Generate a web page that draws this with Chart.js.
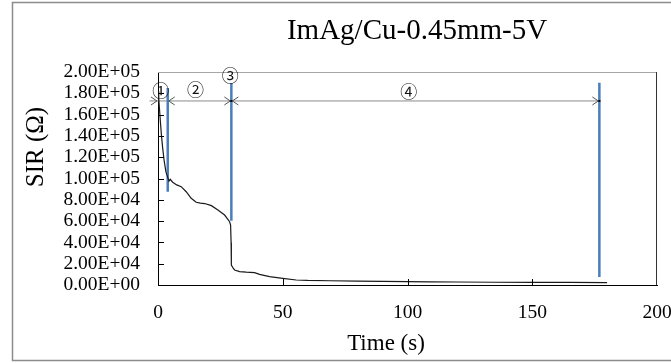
<!DOCTYPE html>
<html><head><meta charset="utf-8">
<script src="https://cdn.jsdelivr.net/npm/chart.js@4/dist/chart.umd.min.js"></script>
<style>html,body{margin:0;padding:0;background:#fff;}#wrap{width:671px;height:363px;}</style>
</head><body><div id="wrap"><canvas id="c" width="671" height="363"></canvas></div>
<script>
// ---- data ----
const chartTitle = 'ImAg/Cu-0.45mm-5V';
const xTitle = 'Time (s)';
const yTitle = 'SIR (\u03A9)';
const timeS = [0,0.3,0.6,1.0,1.4,1.9,2.5,3.2,3.9,4.4,4.9,5.9,7.5,9.3,11.3,13.3,15.3,17,18.7,21.4,24,26.7,28.7,29.1,29.3,29.4,30.2,30.7,32.7,35.4,38.7,40.7,44.7,50,55.4,60,68.8,80,90,100,109,120,135,150,165,180];
const sirOhm = [182000,175000,165000,152000,140000,128000,116000,106000,101000,97500,99200,96500,94000,92300,87600,81400,77700,76800,76500,74500,70400,65700,59400,56300,40000,18800,15500,14100,12500,12000,11600,10000,7800,6300,4700,4300,4000,3600,3400,3200,3000,2800,2600,2500,2400,2300];
// stage boundary markers (time, top SIR, bottom SIR)
const boundaryTimes = [3.9, 29.4, 176.9];
const boundaryTop = [185000, 189700, 190000];
const boundaryBottom = [87600, 60400, 7500];
// stage arrow row
const arrowSIR = 172800;
const arrowStart = -3.4;
const stageLabels = ['\u2460','\u2461','\u2462','\u2463'];
const stageLabelTimes = [1.1, 15, 29, 100.5];
const stageLabelSIR = [182500, 183500, 196300, 182000];
const xTicks = [0,50,100,150,200];
const yTicks = [0,20000,40000,60000,80000,100000,120000,140000,160000,180000,200000];

const blue = '#4a7ebb';
const datasets = [{
  data: timeS.map((t,i)=>({x:t,y:sirOhm[i]})),
  borderColor:'#1a1a1a', borderWidth:1.2, pointRadius:0, tension:0, fill:false
}];
boundaryTimes.forEach((t,i)=>{
  datasets.push({data:[{x:t,y:boundaryTop[i]},{x:t,y:boundaryBottom[i]}],
    borderColor:blue, borderWidth:2.5, pointRadius:0, clip:false});
});
datasets.push({data:[{x:arrowStart,y:arrowSIR},{x:boundaryTimes[2],y:arrowSIR}],
  borderColor:'#8a8a8a', borderWidth:1, pointRadius:0, clip:false});

const deco = {
  id:'deco',
  beforeDraw(chart){
    const c=chart.ctx; c.save();
    c.fillStyle='#fff'; c.fillRect(0,0,chart.width,chart.height);
    c.strokeStyle='#8c8c8c'; c.lineWidth=1.5;
    c.strokeRect(12.5,2.5,chart.width+10,358);
    c.restore();
  },
  afterDraw(chart){
    const c=chart.ctx, xs=chart.scales.x, ys=chart.scales.y, a=chart.chartArea;
    c.save();
    c.lineWidth=1;
    c.strokeStyle='#a6a6a6';
    c.beginPath(); c.moveTo(a.left,a.top+0.5); c.lineTo(a.right,a.top+0.5); c.stroke();
    c.strokeStyle='#333';
    c.beginPath(); c.moveTo(a.right-0.5,a.top); c.lineTo(a.right-0.5,a.bottom); c.stroke();
    c.strokeStyle='#000';
    yTicks.forEach(v=>{ if(v===0||v===200000) return; const y=Math.round(ys.getPixelForValue(v))+0.5;
      c.beginPath(); c.moveTo(a.left,y); c.lineTo(a.left+6,y); c.stroke(); });
    xTicks.forEach(v=>{ if(v===0||v===200) return; const x=Math.round(xs.getPixelForValue(v))+0.5;
      c.beginPath(); c.moveTo(x,a.bottom); c.lineTo(x,a.bottom-6); c.stroke(); });
    const ay=ys.getPixelForValue(arrowSIR);
    const head=(x,dir)=>{ c.beginPath(); c.moveTo(x-dir*6,ay-4); c.lineTo(x,ay); c.lineTo(x-dir*6,ay+4); c.stroke(); };
    c.strokeStyle='#555'; c.lineWidth=1;
    head(xs.getPixelForValue(0)-1,1);
    head(xs.getPixelForValue(boundaryTimes[0])+1,-1);
    head(xs.getPixelForValue(boundaryTimes[1])-1,1);
    head(xs.getPixelForValue(boundaryTimes[1])+1,-1);
    head(xs.getPixelForValue(boundaryTimes[2])-1,1);
    c.fillStyle='#000';
    [boundaryTimes[1],boundaryTimes[2]].forEach(t=>{c.fillRect(xs.getPixelForValue(t)-1,ay-1,2,2);});
    c.fillStyle='#111'; c.font='17px "Noto Sans CJK JP"'; c.textAlign='center'; c.textBaseline='middle';
    stageLabels.forEach((s,i)=>c.fillText(s, xs.getPixelForValue(stageLabelTimes[i]), ys.getPixelForValue(stageLabelSIR[i])));
    c.fillStyle='#000';
    c.font='29px "Liberation Serif"'; c.textBaseline='alphabetic';
    c.fillText(chartTitle, 417, 38.5);
    c.font='23px "Liberation Serif"';
    c.fillText(xTitle, 386, 350);
    c.translate(43,147); c.rotate(-Math.PI/2);
    c.font='25px "Liberation Serif"';
    c.fillText(yTitle, 0, 0);
    c.restore();
  }
};

new Chart(document.getElementById('c'), {
  type:'line',
  data:{datasets},
  options:{
    responsive:false, animation:false, devicePixelRatio:1,
    layout:{padding:{left:0,right:14,top:72,bottom:0}},
    plugins:{legend:{display:false}, tooltip:{enabled:false}},
    scales:{
      x:{type:'linear', min:0, max:200,
        afterFit(s){s.height=78; s.paddingLeft=0; s.paddingRight=0;},
        afterBuildTicks(s){s.ticks=xTicks.map(v=>({value:v}));},
        grid:{display:true, drawOnChartArea:false, drawTicks:false},
        border:{display:true,color:'#000',width:1},
        ticks:{padding:16, color:'#000', maxRotation:0, autoSkip:false, font:{family:'"Liberation Serif"', size:19.5}}
      },
      y:{type:'linear', min:0, max:200000,
        afterFit(s){s.width=158; s.paddingTop=0; s.paddingBottom=0;},
        afterBuildTicks(s){s.ticks=yTicks.map(v=>({value:v}));},
        grid:{display:true, drawOnChartArea:false, drawTicks:false},
        border:{display:true,color:'#000',width:1},
        ticks:{padding:18, color:'#000', autoSkip:false, font:{family:'"Liberation Serif"', size:19.5},
          callback:(v)=>{const ex=v===0?0:Math.floor(Math.log10(v)); const m=v===0?0:v/Math.pow(10,ex);
            return m.toFixed(2)+'E+'+String(ex).padStart(2,'0');}}
      }
    }
  },
  plugins:[deco]
});
</script></body></html>
